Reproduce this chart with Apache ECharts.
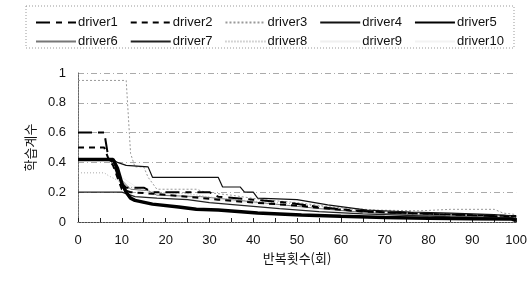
<!DOCTYPE html>
<html><head><meta charset="utf-8">
<script src="https://cdn.jsdelivr.net/npm/echarts@6/dist/echarts.min.js"></script>
<style>html,body{margin:0;padding:0;background:#fff}#c{width:530px;height:281px}</style>
</head><body><div id="c"></div>
<script>
// x tick labels and y tick labels
const xTicks = [0,10,20,30,40,50,60,70,80,90,100];
const yTicks = [0,0.2,0.4,0.6,0.8,1];
const seriesNames = ['driver1','driver2','driver3','driver4','driver5','driver6','driver7','driver8','driver9','driver10'];
// values as [iteration, coefficient] breakpoints
const driver1 = [[0,0.6],[6,0.6],[7,0.42],[8,0.4],[9,0.32],[10,0.26],[11,0.23],[15,0.23],[17,0.2],[30,0.2],[32,0.17],[40,0.15],[48,0.13],[55,0.1],[62,0.08],[70,0.065],[80,0.055],[90,0.045],[100,0.035]];
const driver2 = [[0,0.5],[6,0.5],[7,0.42],[8,0.38],[9,0.3],[10,0.22],[12,0.2],[17,0.19],[25,0.17],[32,0.15],[40,0.13],[50,0.11],[57,0.09],[65,0.07],[75,0.06],[85,0.05],[100,0.04]];
const driver3 = [[0,0.95],[11,0.95],[12,0.46],[13,0.37],[15,0.37],[16,0.3],[18,0.22],[27,0.22],[29,0.2],[35,0.18],[42,0.15],[50,0.13],[58,0.1],[68,0.08],[78,0.075],[85,0.085],[95,0.085],[97,0.06],[100,0.05]];
const driver4 = [[0,0.42],[8,0.42],[9,0.4],[11,0.38],[16,0.37],[17,0.3],[32,0.3],[33,0.235],[37,0.235],[38,0.2],[40,0.2],[41,0.16],[50,0.15],[57,0.115],[66,0.08],[76,0.067],[85,0.06],[95,0.05],[100,0.04]];
const driver5 = [[0,0.42],[8,0.42],[9,0.36],[10,0.26],[11,0.2],[12,0.16],[13,0.145],[17,0.12],[23,0.1],[27,0.085],[32,0.08],[41,0.06],[51,0.047],[60,0.038],[70,0.03],[80,0.025],[90,0.022],[99,0.02],[100,0.01]];
const driver6 = [[0,0.42],[8,0.42],[9,0.34],[10,0.28],[12,0.22],[16,0.21],[18,0.18],[28,0.17],[35,0.15],[45,0.12],[55,0.09],[65,0.065],[75,0.05],[85,0.04],[100,0.03]];
const driver7 = [[0,0.2],[10,0.2],[11,0.19],[13,0.17],[18,0.16],[25,0.15],[30,0.13],[38,0.11],[46,0.09],[55,0.07],[65,0.055],[75,0.045],[85,0.035],[100,0.025]];
const driver8 = [[0,0.33],[6,0.33],[7,0.31],[9,0.28],[11,0.24],[14,0.22],[18,0.2],[25,0.19],[32,0.16],[40,0.14],[50,0.12],[60,0.09],[70,0.07],[80,0.06],[90,0.05],[100,0.04]];
const driver9 = [[0,0.42],[8,0.42],[10,0.3],[15,0.2],[30,0.15],[60,0.08],[100,0.03]];
const driver10 = [[0,0.42],[8,0.42],[10,0.28],[15,0.19],[30,0.14],[60,0.07],[100,0.02]];

const allData = [driver1,driver2,driver3,driver4,driver5,driver6,driver7,driver8,driver9,driver10];
const styles = [
  {color:'#000', width:2, type:[14,6,6,6], z:3},
  {color:'#000', width:2, type:[6,5], z:3},
  {color:'#999', width:1, type:[2,2], z:2},
  {color:'#111', width:1.2, type:'solid', z:3},
  {color:'#000', width:3.5, type:'solid', z:4},
  {color:'#777', width:1, type:'solid', z:2},
  {color:'#222', width:1.3, type:'solid', z:3},
  {color:'#aaa', width:1, type:[1,2], z:2},
  {color:'#f0f0f0', width:1, type:'solid', z:1},
  {color:'#f3f3f3', width:1, type:'solid', z:1}
];
const FONT = '"Liberation Sans", Arial, sans-serif';
const KFONT = '"Noto Sans CJK KR", sans-serif';

const chart = echarts.init(document.getElementById('c'), null, {renderer:'canvas'});
const legendCommon = {
  left: 30, itemWidth: 40, itemHeight: 10, itemGap: 12, orient:'horizontal',
  itemStyle: {color:'transparent', borderColor:'transparent', borderWidth:0, opacity:0},
  textStyle: {fontFamily: FONT, fontSize: 13, color:'#111', padding:[0,0,0,-3]},
  selectedMode: false
};
chart.setOption({
  animation: false,
  grid: {left: 78, right: 13, top: 73, bottom: 59, show: false},
  legend: [
    Object.assign({}, legendCommon, {top: 11, data: seriesNames.slice(0,5)}),
    Object.assign({}, legendCommon, {top: 30, data: seriesNames.slice(5)})
  ],
  graphic: [{type:'rect', shape:{x:26, y:6, width:488, height:42}, style:{fill:'none', stroke:'#999', lineWidth:1, lineDash:[1,2]}, silent:true}],
  xAxis: [{
    type:'value', min:0, max:100, interval:10,
    name:'반복횟수(회)', nameLocation:'middle', nameGap:25,
    nameTextStyle:{fontFamily:KFONT, fontSize:13, color:'#111'},
    axisLine:{show:true, lineStyle:{color:'#222', width:1}},
    axisTick:{show:true, inside:true, length:4, lineStyle:{color:'#222'}},
    minorTick:{show:true, splitNumber:2, length:4, lineStyle:{color:'#222'}},
    axisLabel:{fontFamily:FONT, fontSize:13, color:'#111', margin:12,
      formatter: v => xTicks.includes(v) ? String(v) : ''},
    splitLine:{show:false}
  },{
    type:'value', min:0, max:100, position:'top',
    axisLine:{show:true, lineStyle:{color:'#888', type:[1,2]}},
    axisTick:{show:false}, axisLabel:{show:false}, splitLine:{show:false}
  }],
  yAxis: [{
    type:'value', min:0, max:1, interval:0.2,
    name:'학습계수', nameLocation:'middle', nameGap:38, nameRotate:90,
    nameTextStyle:{fontFamily:KFONT, fontSize:13, color:'#111'},
    axisLine:{show:true, lineStyle:{color:'#555', width:1}},
    axisTick:{show:false},
    axisLabel:{fontFamily:FONT, fontSize:13, color:'#111', margin:12,
      formatter: v => { const t = yTicks.find(y => Math.abs(y - v) < 1e-9); return t === undefined ? '' : String(t); }},
    splitLine:{show:true, lineStyle:{color:'#aaa', width:1, type:[6,3,1,3]}}
  },{
    type:'value', min:0, max:1, position:'right',
    axisLine:{show:true, lineStyle:{color:'#888', type:[1,2]}},
    axisTick:{show:false}, axisLabel:{show:false}, splitLine:{show:false}
  }],
  series: seriesNames.map((n,i) => ({
    name:n, type:'line', data: allData[i], symbol:'none', showSymbol:false,
    xAxisIndex:0, yAxisIndex:0, z: styles[i].z,
    itemStyle:{color: styles[i].color},
    lineStyle:{color: styles[i].color, width: styles[i].width, type: styles[i].type}
  }))
});
</script></body></html>
